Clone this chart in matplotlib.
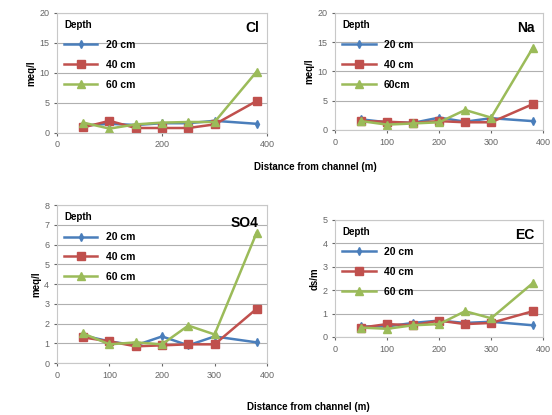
import matplotlib
matplotlib.use('Agg')
import matplotlib.pyplot as plt

plt.rcParams['font.family'] = ['Liberation Sans', 'DejaVu Sans']

# distance from channel (m)
dist = [50, 100, 150, 200, 250, 300, 380]

cl_20 = [1.2, 1.5, 1.3, 1.6, 1.6, 2.0, 1.5]
cl_40 = [0.9, 2.0, 0.8, 0.8, 0.8, 1.4, 5.3]
cl_60 = [1.7, 0.7, 1.4, 1.7, 1.8, 1.8, 10.2]

na_20 = [1.8, 1.3, 1.2, 2.1, 1.4, 2.0, 1.5]
na_40 = [1.5, 1.4, 1.2, 1.5, 1.3, 1.3, 4.4]
na_60 = [1.5, 0.9, 1.1, 1.3, 3.4, 2.1, 14.0]

so4_20 = [1.4, 1.1, 0.9, 1.35, 0.9, 1.35, 1.05]
so4_40 = [1.3, 1.1, 0.85, 0.9, 0.95, 0.95, 2.75]
so4_60 = [1.5, 0.95, 1.05, 0.95, 1.9, 1.45, 6.6]

ec_20 = [0.45, 0.45, 0.6, 0.7, 0.6, 0.65, 0.5]
ec_40 = [0.4, 0.55, 0.5, 0.7, 0.55, 0.6, 1.1]
ec_60 = [0.4, 0.35, 0.5, 0.55, 1.1, 0.8, 2.3]

labels = ['20 cm', '40 cm', '60 cm']
colors = ['#4a7ebb', '#c0504d', '#9bbb59']
markers = ['d', 's', '^']
msizes = [4, 6, 6]

fig = plt.figure(figsize=(5.52, 4.15), dpi=100)

panels = [
    # rect, title, ylabel, series, ylim, ystep, xticks, legend labels
    ([0.103, 0.680, 0.381, 0.289], 'Cl', 'meq/l', [cl_20, cl_40, cl_60], 20, 5, [0, 200, 400], labels),
    ([0.607, 0.687, 0.377, 0.282], 'Na', 'meq/l', [na_20, na_40, na_60], 20, 5, [0, 100, 200, 300, 400],
     ['20 cm', '40 cm', '60cm']),
    ([0.103, 0.125, 0.381, 0.381], 'SO4', 'meq/l', [so4_20, so4_40, so4_60], 8, 1, [0, 100, 200, 300, 400], labels),
    ([0.607, 0.188, 0.377, 0.282], 'EC', 'ds/m', [ec_20, ec_40, ec_60], 5, 1, [0, 100, 200, 300, 400], labels),
]

for rect, title, ylab, series, ymax, ystep, xt, labs in panels:
    ax = fig.add_axes(rect)
    for vals, lab, c, m, ms in zip(series, labs, colors, markers, msizes):
        ax.plot(dist, vals, color=c, marker=m, markersize=ms, linewidth=1.8, label=lab)
    ax.set_xlim(0, 400)
    ax.set_ylim(0, ymax)
    ax.set_xticks(xt)
    ax.set_yticks(range(0, ymax + 1, ystep))
    ax.yaxis.grid(True, color='#b0b0b0', linewidth=0.8)
    ax.set_axisbelow(True)
    for s in ax.spines.values():
        s.set_color('#c8c8c8')
    ax.tick_params(labelsize=6.5, colors='#666666', length=2)
    ax.set_ylabel(ylab, fontsize=7, fontweight='bold', labelpad=2)
    ax.text(0.96, 0.93, title, transform=ax.transAxes, ha='right', va='top',
            fontsize=10, fontweight='bold')
    leg = ax.legend(loc='upper left', title='Depth', frameon=False, fontsize=7.5,
                    title_fontproperties={'weight': 'bold', 'size': 7},
                    alignment='left', handlelength=3.2, labelspacing=0.95,
                    borderaxespad=0.3)
    for t in leg.get_texts():
        t.set_fontweight('bold')

fig.text(0.572, 0.598, 'Distance from channel (m)', ha='center', va='center',
         fontsize=7, fontweight='bold')
fig.text(0.558, 0.019, 'Distance from channel (m)', ha='center', va='center',
         fontsize=7, fontweight='bold')

fig.savefig('out.png', dpi=100)
